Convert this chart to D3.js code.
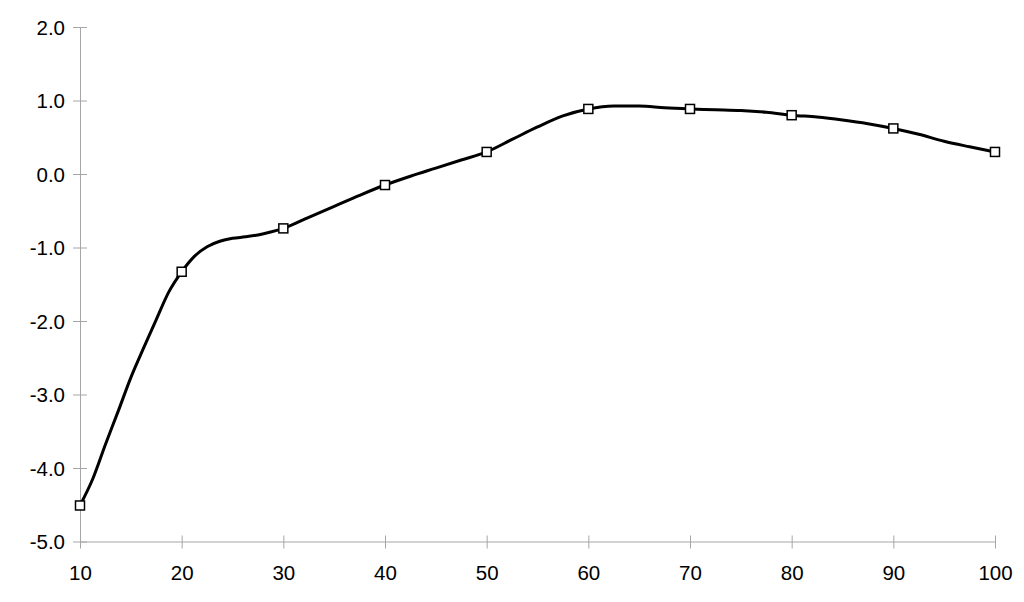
<!DOCTYPE html>
<html>
<head>
<meta charset="utf-8">
<script src="https://cdn.jsdelivr.net/npm/d3@7/dist/d3.min.js"></script>
<style>
  html, body { margin: 0; padding: 0; background: #ffffff; }
  svg { display: block; }
  text { font-family: "Liberation Sans", Arial, Helvetica, sans-serif; }
</style>
</head>
<body>
<svg id="chart" width="1024" height="602"></svg>
<script>
// ---- data ----
const xValues = [10, 11.25, 12.5, 13.75, 15, 16.25, 17.5, 18.75, 20,
                 21.25, 22.5, 23.75, 25, 26.25, 27.5, 28.75, 30,
                 32.5, 35, 37.5, 40, 42.5, 45, 47.5, 50,
                 52.5, 55, 57.5, 60, 62.5, 65, 67.5, 70,
                 72.5, 75, 77.5, 80, 82.5, 85, 87.5, 90,
                 92.5, 95, 97.5, 100];
const yValues = [-4.51, -4.15, -3.68, -3.23, -2.77, -2.37, -1.98, -1.60, -1.33,
                 -1.12, -0.99, -0.915, -0.875, -0.855, -0.83, -0.79, -0.74,
                 -0.59, -0.44, -0.29, -0.15, -0.03, 0.08, 0.19, 0.30,
                 0.47, 0.64, 0.79, 0.885, 0.925, 0.925, 0.90, 0.885,
                 0.875, 0.865, 0.84, 0.80, 0.775, 0.735, 0.685, 0.62,
                 0.54, 0.445, 0.37, 0.30];
const markerX = [10, 20, 30, 40, 50, 60, 70, 80, 90, 100];
const xTicks = [10, 20, 30, 40, 50, 60, 70, 80, 90, 100];
const yTicks = [-5, -4, -3, -2, -1, 0, 1, 2];

// ---- layout ----
const svg = d3.select("#chart");
const x = d3.scaleLinear().domain([10, 100]).range([80, 995]);
const y = d3.scaleLinear().domain([-5, 2]).range([541.5, 27]);
const axisColor = "#a6a6a6";
const fontSize = "20.5px";

// Y axis
const gy = svg.append("g").attr("transform", `translate(${x(10)},0)`)
  .call(d3.axisLeft(y).tickValues(yTicks).tickSizeOuter(0).tickSizeInner(7)
        .tickFormat(d => d.toFixed(1)));
gy.select(".domain").attr("stroke", axisColor).attr("stroke-width", 1);
gy.selectAll(".tick line").attr("stroke", axisColor).attr("x1", -7).attr("x2", 7);
gy.selectAll(".tick text").attr("x", -15).attr("dy", "0.35em")
  .attr("font-size", fontSize).attr("fill", "#000").style("font-family", "'Liberation Sans', Arial, sans-serif");

// X axis
const gx = svg.append("g").attr("transform", `translate(0,${y(-5)})`)
  .call(d3.axisBottom(x).tickValues(xTicks).tickSizeOuter(0).tickSizeInner(6)
        .tickFormat(d => String(d)));
gx.select(".domain").attr("stroke", axisColor).attr("stroke-width", 1);
gx.selectAll(".tick line").attr("stroke", axisColor).attr("y1", -6).attr("y2", 7);
gx.selectAll(".tick text").attr("y", 38).attr("dy", "0")
  .attr("font-size", fontSize).attr("fill", "#000").style("font-family", "'Liberation Sans', Arial, sans-serif");

// line
const pts = xValues.map((xv, i) => [xv, yValues[i]]);
const line = d3.line().x(d => x(d[0])).y(d => y(d[1])).curve(d3.curveMonotoneX);
svg.append("path").datum(pts)
  .attr("d", line).attr("fill", "none").attr("stroke", "#000")
  .attr("stroke-width", 3).attr("stroke-linejoin", "round");

// markers
const markers = pts.filter(d => markerX.includes(d[0]));
svg.append("g").selectAll("rect").data(markers).join("rect")
  .attr("x", d => x(d[0]) - 4.5).attr("y", d => y(d[1]) - 4.5)
  .attr("width", 9).attr("height", 9)
  .attr("fill", "#fff").attr("stroke", "#000").attr("stroke-width", 1.5);
</script>
</body>
</html>
